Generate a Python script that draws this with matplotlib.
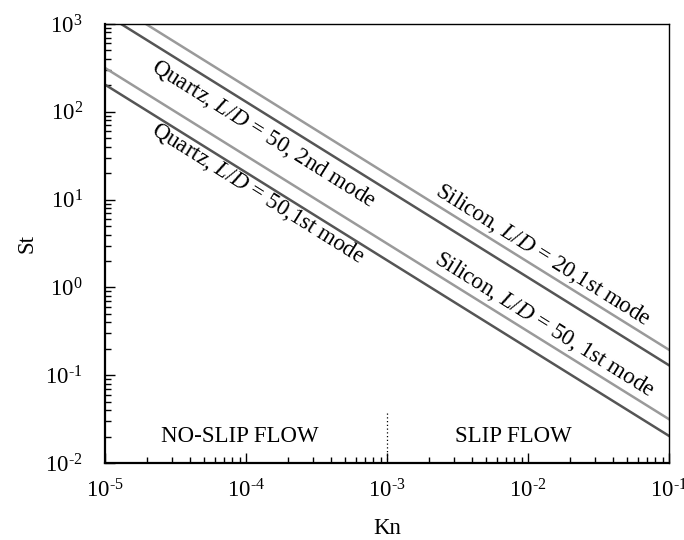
import numpy as np
import matplotlib
matplotlib.use("Agg")
import matplotlib.pyplot as plt
from matplotlib.ticker import FuncFormatter

plt.rcParams['font.family'] = ['Liberation Serif', 'DejaVu Serif']
plt.rcParams['mathtext.fontset'] = 'custom'
plt.rcParams['mathtext.rm'] = 'Liberation Serif'
plt.rcParams['mathtext.it'] = 'Liberation Serif:italic'

# Kn at the two ends of each line, St at those ends
kn_ends = [1e-5, 1e-1]
st_silicon_20_1st = [1950.0, 0.195]
st_quartz_50_2nd = [1300.0, 0.13]
st_silicon_50_1st = [316.0, 0.0316]
st_quartz_50_1st = [204.0, 0.0204]

kn_boundary = 1e-3
boundary_top = 0.038

dark = '#555555'
light = '#9a9a9a'


def pow_label(v, pos):
    # short hyphen instead of the wide math minus, like the original
    e = int(round(np.log10(v)))
    s = str(e).replace('-', '\u2010')
    return r'$\mathregular{10^{%s}}$' % s


fig = plt.figure(figsize=(6.84, 5.4), dpi=100)
ax = fig.add_axes([0.1535, 0.1425, 0.8245, 0.8131])

ax.plot(kn_ends, st_silicon_20_1st, color=light, lw=1.8)
ax.plot(kn_ends, st_quartz_50_2nd, color=dark, lw=1.8)
ax.plot(kn_ends, st_silicon_50_1st, color=light, lw=1.8)
ax.plot(kn_ends, st_quartz_50_1st, color=dark, lw=1.8)

ax.plot([kn_boundary, kn_boundary], [1e-2, boundary_top], color='black',
        lw=0.9, ls=(0, (1, 2)))

ax.set_xscale('log')
ax.set_yscale('log')
ax.set_xlim(1e-5, 1e-1)
ax.set_ylim(1e-2, 1e3)
ax.xaxis.set_major_formatter(FuncFormatter(pow_label))
ax.yaxis.set_major_formatter(FuncFormatter(pow_label))

fs = 16.5
rot = -32
kw = dict(rotation=rot, rotation_mode='anchor', ha='center', va='center',
          fontsize=fs)
ax.text(1.33e-4, 57.0, r'Quartz, $L/D$ = 50, 2nd mode', **kw)
ax.text(1.22e-4, 11.8, r'Quartz, $L/D$ = 50,1st mode', **kw)
ax.text(1.27e-2, 2.35, r'Silicon, $L/D$ = 20,1st mode', **kw)
ax.text(1.30e-2, 0.38, r'Silicon, $L/D$ = 50, 1st mode', **kw)

ax.text(9.0e-5, 0.0203, 'NO-SLIP FLOW', ha='center', va='center', fontsize=fs)
ax.text(7.9e-3, 0.0203, 'SLIP FLOW', ha='center', va='center', fontsize=fs)

ax.set_xlabel('Kn', fontsize=fs)
ax.set_ylabel('St', fontsize=fs)
ax.xaxis.set_label_coords(0.5, -0.125)
ax.yaxis.set_label_coords(-0.12, 0.5)

ax.tick_params(which='both', direction='in', top=False, right=False,
               labelsize=fs)
ax.tick_params(which='major', length=7, width=1.0)
ax.tick_params(axis='x', which='major', pad=12)
ax.tick_params(axis='y', which='major', pad=16)
ax.tick_params(which='minor', length=4, width=1.0)

for side in ['left', 'bottom']:
    ax.spines[side].set_linewidth(1.6)
for side in ['top', 'right']:
    ax.spines[side].set_linewidth(1.0)

fig.savefig('out.png', dpi=100)
